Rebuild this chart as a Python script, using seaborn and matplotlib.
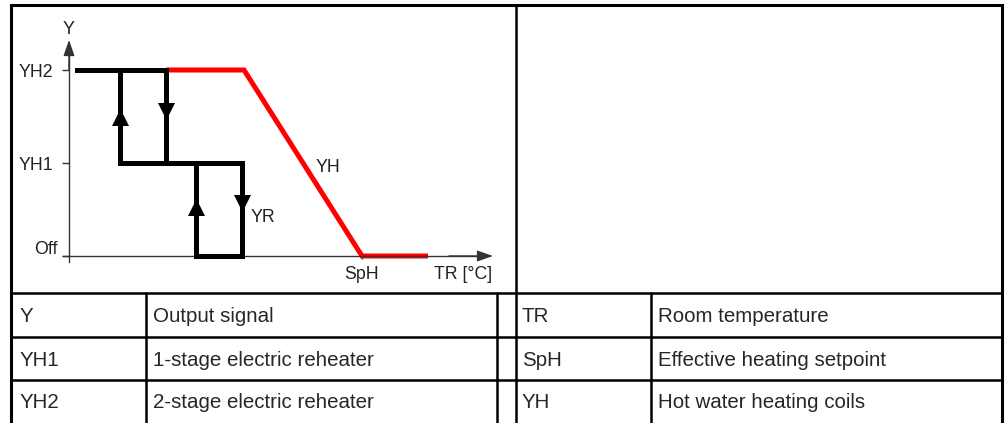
import numpy as np
import pandas as pd
import matplotlib
matplotlib.use("Agg")
import matplotlib.pyplot as plt
import matplotlib.transforms as mtrans
import seaborn as sns

# ---------------- data ----------------
# y levels
y_tick_vals = [0, 1, 2]
y_tick_labels = ["Off", "YH1", "YH2"]

# YR: electric reheater hysteresis steps (segments)
yr_seg = [0, 0, 1, 1, 2, 2, 3, 3, 4, 4, 5, 5, 6, 6]
yr_x = [0.8, 9.7, 5.1, 5.1, 9.7, 9.7, 5.1, 17.3, 12.7, 12.7, 17.3, 17.3, 12.7, 17.3]
yr_y = [2, 2, 1, 2, 2, 1, 1, 1, 0, 1, 1, 0, 0, 0]

# YH: hot water heating coil
yh_x = [9.7, 17.5, 29.3, 35.9]
yh_y = [2, 2, 0, 0]

# direction arrows on hysteresis
up_x = [5.1, 12.7]
up_y = [1.50, 0.53]
down_x = [9.7, 17.3]
down_y = [1.56, 0.57]

sph_x = 29.3

# legend table
table_left_keys = ["Y", "YH1", "YH2"]
table_left_desc = ["Output signal", "1-stage electric reheater", "2-stage electric reheater"]
table_right_keys = ["TR", "SpH", "YH"]
table_right_desc = ["Room temperature", "Effective heating setpoint", "Hot water heating coils"]

# ---------------- style ----------------
sns.set_style("white")
plt.rcParams["font.family"] = ["Liberation Sans", "DejaVu Sans"]

W, H = 1008, 423
fig = plt.figure(figsize=(W / 100, H / 100), dpi=100)

# ---------- table overlay (pixel coordinates) ----------
tab = fig.add_axes([0, 0, 1, 1])
tab.set_xlim(0, W)
tab.set_ylim(H, 0)
tab.axis("off")
lc = "black"
tab.plot([11, 1002], [5, 5], color=lc, lw=2.2, solid_capstyle="projecting")
tab.plot([11, 11], [5, 423], color=lc, lw=2.2)
tab.plot([1002, 1002], [5, 423], color=lc, lw=2.2)
tab.plot([516, 516], [5, 423], color=lc, lw=1.8)
for yy in [293, 337, 380]:
    tab.plot([11, 1002], [yy, yy], color=lc, lw=1.8)
for xx in [146, 497, 651]:
    tab.plot([xx, xx], [293, 423], color=lc, lw=1.8)

row_base = [322, 365.5, 408.5]
fs_t = 14.8
for k, d, kr, dr, yb in zip(table_left_keys, table_left_desc, table_right_keys, table_right_desc, row_base):
    tab.text(20, yb, k, fontsize=fs_t, va="baseline", ha="left")
    tab.text(153, yb, d, fontsize=fs_t, va="baseline", ha="left")
    tab.text(522, yb, kr, fontsize=fs_t, va="baseline", ha="left")
    tab.text(658, yb, dr, fontsize=fs_t, va="baseline", ha="left")

# ---------- chart axes ----------
# px -> data: x = (px-69)/10 ; y = (256-py)/93
ax = fig.add_axes([11 / W, (H - 293) / H, 504 / W, 288 / H])
ax.set_facecolor("none")
ax.set_xlim((11 - 69) / 10, (515 - 69) / 10)
ax.set_ylim((256 - 293) / 93, (256 - 5) / 93)

axc = "#333333"
for s in ["top", "right"]:
    ax.spines[s].set_visible(False)
ax.spines["left"].set_position(("data", 0))
ax.spines["bottom"].set_position(("data", 0))
ax.spines["left"].set_bounds(-0.065, 2.25)
ax.spines["bottom"].set_bounds(-0.6, 41.5)
for s in ["left", "bottom"]:
    ax.spines[s].set_color(axc)
    ax.spines[s].set_linewidth(1.0)

ap = dict(arrowstyle="-|>,head_length=0.8,head_width=0.28", color=axc, lw=1.0,
          shrinkA=0, shrinkB=0, mutation_scale=12)
ax.annotate("", xy=(0, (256 - 40) / 93), xytext=(0, 2.0), arrowprops=ap)
ax.annotate("", xy=((493 - 69) / 10, 0), xytext=(38, 0), arrowprops=ap)

ax.set_yticks(y_tick_vals)
ax.set_yticklabels(y_tick_labels)
ax.set_xticks([sph_x])
ax.set_xticklabels(["SpH"])
ax.tick_params(axis="y", direction="out", length=5, width=1.0, color=axc,
               labelsize=12.8, labelcolor="#222222", pad=6.5, left=True)
ax.tick_params(axis="x", direction="out", length=2.5, width=1.0, color=axc,
               labelsize=12.8, labelcolor="#222222", pad=4.5, bottom=True)
off_lab = ax.get_yticklabels()[0]
off_lab.set_transform(off_lab.get_transform() + mtrans.ScaledTranslation(3 / 72, 6 / 72, fig.dpi_scale_trans))
ax.grid(False)

# YR hysteresis (black)
df_yr = pd.DataFrame({"x": yr_x, "y": yr_y, "seg": yr_seg})
sns.lineplot(data=df_yr, x="x", y="y", units="seg", estimator=None, sort=False,
             color="black", linewidth=3.6, solid_capstyle="projecting", ax=ax, zorder=3)

# YH (red)
df_yh = pd.DataFrame({"x": yh_x, "y": yh_y})
sns.lineplot(data=df_yh, x="x", y="y", estimator=None, sort=False,
             color="#ff0000", linewidth=3.6, solid_capstyle="butt",
             solid_joinstyle="miter", ax=ax, zorder=2)

# arrow marks
sns.scatterplot(x=up_x, y=up_y, marker="^", s=150, color="black", linewidth=0, ax=ax, zorder=4)
sns.scatterplot(x=down_x, y=down_y, marker="v", s=150, color="black", linewidth=0, ax=ax, zorder=4)

ax.set_xlabel("")
ax.set_ylabel("")

fs_c = 12.8
ax.text(0, (256 - 34) / 93, "Y", fontsize=fs_c, ha="center", va="baseline", color="#222222")
ax.text((328 - 69) / 10, (256 - 172) / 93, "YH", fontsize=fs_c, ha="center", va="baseline", color="#222222")
ax.text((263 - 69) / 10, (256 - 222) / 93, "YR", fontsize=fs_c, ha="center", va="baseline", color="#222222")
ax.text((463 - 69) / 10, (256 - 279) / 93, "TR [°C]", fontsize=fs_c, ha="center", va="baseline", color="#222222")

fig.savefig("out.png", dpi=100)
